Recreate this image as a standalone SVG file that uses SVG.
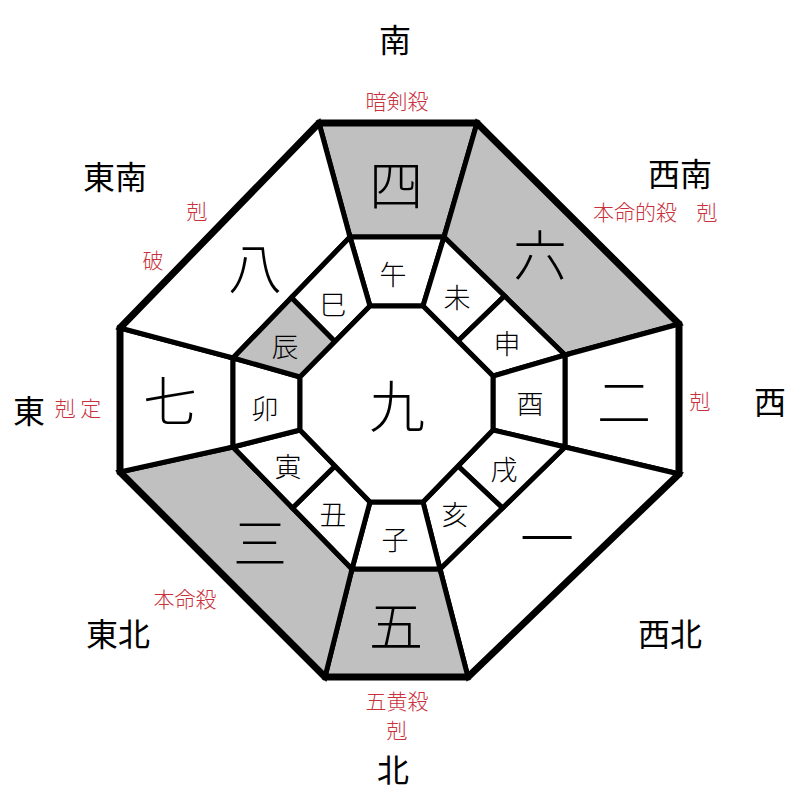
<svg xmlns="http://www.w3.org/2000/svg" width="800" height="800" viewBox="0 0 800 800">
<style>
.c{stroke:#000;stroke-width:5;stroke-linejoin:miter;fill:#fff}
.g{fill:#c0c0c0}
.t{font-family:"Noto Sans CJK JP","Noto Sans CJK SC",sans-serif;text-anchor:middle;dominant-baseline:central;fill:#000;font-weight:300}
.big{font-size:54px}
.mid{font-size:27px}
.dir{font-size:32px;font-weight:400}
.red{fill:#c8323c;font-size:21px}
</style>
<rect width="800" height="800" fill="#fff"/>
<g id="outer-ring">
<g id="n4"><polygon class="c g" points="319,123 477,123 444,237 350,237"/><text class="t big" x="396" y="182">四</text></g>
<g id="n6"><polygon class="c g" points="477,123 679,324 565,355 444,237"/><text class="t big" x="540" y="252">六</text></g>
<g id="n2"><polygon class="c" points="679,324 679,474 565,447 565,355"/><text class="t big" x="624" y="399">二</text></g>
<g id="n1"><polygon class="c" points="679,474 468,677 440,569 565,447"/><text class="t big" x="547" y="535">一</text></g>
<g id="n5"><polygon class="c g" points="468,677 325,677 352,569 440,569"/><text class="t big" x="396" y="623">五</text></g>
<g id="n3"><polygon class="c g" points="325,677 120,472 233,447 352,569"/><text class="t big" x="260" y="540">三</text></g>
<g id="n7"><polygon class="c" points="120,472 120,328 233,358 233,447"/><text class="t big" x="170" y="398">七</text></g>
<g id="n8"><polygon class="c" points="120,328 319,123 350,237 233,358"/><text class="t big" x="255" y="265">八</text></g>
</g>
<g id="middle-ring">
<g id="uma"><polygon class="c" points="350,237 444,237 423,306 370,306"/><text class="t mid" x="393" y="273">午</text></g>
<g id="hitsuji"><polygon class="c" points="444,237 504.5,296 458,341 423,306"/><text class="t mid" x="457" y="296">未</text></g>
<g id="saru"><polygon class="c" points="504.5,296 565,355 493,376 458,341"/><text class="t mid" x="507" y="342">申</text></g>
<g id="tori"><polygon class="c" points="565,355 565,447 493,430 493,376"/><text class="t mid" x="530" y="402">酉</text></g>
<g id="inu"><polygon class="c" points="565,447 502.5,508 458,466 493,430"/><text class="t mid" x="504" y="468">戌</text></g>
<g id="i"><polygon class="c" points="502.5,508 440,569 423,502 458,466"/><text class="t mid" x="455" y="513">亥</text></g>
<g id="ne"><polygon class="c" points="440,569 352,569 370,502 423,502"/><text class="t mid" x="395" y="538">子</text></g>
<g id="ushi"><polygon class="c" points="352,569 292.5,508 335,466 370,502"/><text class="t mid" x="333" y="513">丑</text></g>
<g id="tora"><polygon class="c" points="292.5,508 233,447 300,430 335,466"/><text class="t mid" x="288" y="465">寅</text></g>
<g id="u"><polygon class="c" points="233,447 233,358 300,377 300,430"/><text class="t mid" x="265" y="407">卯</text></g>
<g id="tatsu"><polygon class="c g" points="233,358 291.5,297.5 335,341.5 300,377"/><text class="t mid" x="285" y="345">辰</text></g>
<g id="mi"><polygon class="c" points="291.5,297.5 350,237 370,306 335,341.5"/><text class="t mid" x="333" y="303">巳</text></g>
</g>
<g id="center"><polygon class="c" points="370,306 423,306 493,376 493,430 423,502 370,502 300,430 300,377"/><text class="t" font-size="56" x="397" y="402">九</text></g>
<g id="frame"><polygon points="319,123 477,123 679,324 679,474 468,677 325,677 120,472 120,328" fill="none" stroke="#000" stroke-width="7" stroke-linejoin="miter"/></g>
<g id="labels">
<text class="t dir" x="395" y="38">南</text>
<text class="t red" x="397" y="100">暗剣殺</text>
<text class="t dir" x="115" y="175">東南</text>
<text class="t red" x="197" y="210">剋</text>
<text class="t red" x="153" y="259">破</text>
<text class="t dir" x="680" y="172">西南</text>
<text class="t red" x="635" y="211">本命的殺</text>
<text class="t red" x="707" y="211">剋</text>
<text class="t dir" x="29" y="409">東</text>
<text class="t red" x="78" y="407" font-size="18">剋 定</text>
<text class="t dir" x="770" y="400">西</text>
<text class="t red" x="700" y="400">剋</text>
<text class="t dir" x="118" y="632">東北</text>
<text class="t red" x="185" y="598">本命殺</text>
<text class="t dir" x="670" y="632">西北</text>
<text class="t red" x="397" y="700" font-size="20">五黄殺</text>
<text class="t red" x="397" y="729" font-size="19">剋</text>
<text class="t dir" x="393" y="768">北</text>
</g>
</svg>
